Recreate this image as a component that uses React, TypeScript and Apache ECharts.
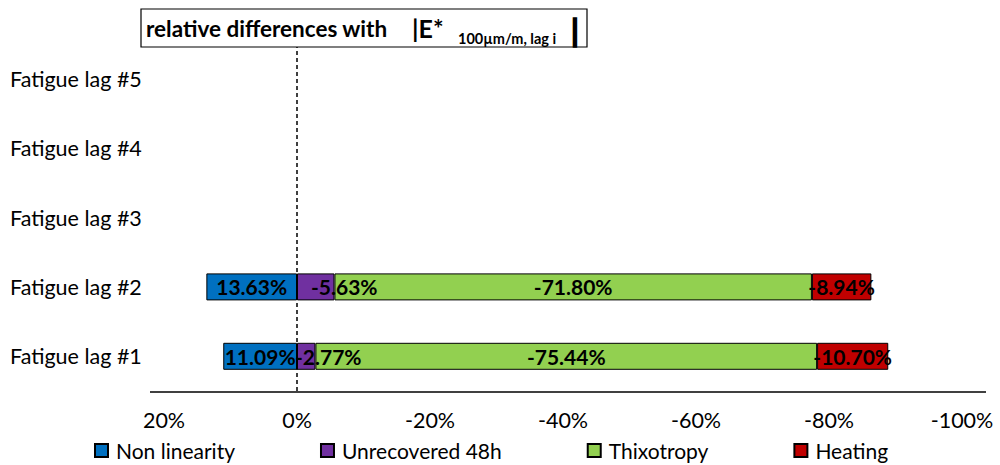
import React, { useEffect, useRef } from "react";
import * as echarts from "echarts";

const categories = ["Fatigue lag #1", "Fatigue lag #2", "Fatigue lag #3", "Fatigue lag #4", "Fatigue lag #5"];
const seriesNames = ["Non linearity", "Unrecovered 48h", "Thixotropy", "Heating"];
const nonLinearity = [11.09, 13.63, null, null, null];
const unrecovered = [-2.77, -5.63, null, null, null];
const thixotropy = [-75.44, -71.8, null, null, null];
const heating = [-10.7, -8.94, null, null, null];
const colors = ["#0070C0", "#7030A0", "#92D050", "#C00000"];
const xTicks = { min: -100, max: 20, interval: 20 };
const titleMain = "relative differences with";
const titleVar = "|E*";
const titleSub = "100µm/m, lag i";
const titleEnd = "|";

const FONT = "Lato";

export default function App() {
  const ref = useRef<HTMLDivElement>(null);
  useEffect(() => {
    if (!ref.current) return;
    const chart = echarts.init(ref.current, null, { renderer: "svg" });
    const values = [nonLinearity, unrecovered, thixotropy, heating];
    const series: any[] = values.map((d, i) => ({
      name: seriesNames[i],
      type: "bar",
      stack: "total",
      data: d.map((v, j) =>
        i === 1 && v != null
          ? { value: v, label: { position: "insideLeft", distance: 0, offset: [j === 1 ? 14 : -2, 0] } }
          : v
      ),
      barWidth: 27,
      itemStyle: { color: colors[i], borderColor: "#000", borderWidth: 1 },
      label: {
        show: true,
        position: "inside",
        fontFamily: FONT,
        fontWeight: "bold",
        fontSize: 21,
        color: "#000",
        formatter: (p: any) => (p.value == null ? "" : p.value.toFixed(2) + "%"),
      },
      z: 2,
    }));
    series[0].markLine = {
      silent: true,
      symbol: ["none", "none"],
      label: { show: false },
      lineStyle: { color: "#000", type: [4, 3], width: 1.5 },
      data: [{ xAxis: 0 }],
      z: 5,
    };
    const bold = { fontFamily: FONT, fontWeight: "bold", fill: "#000", verticalAlign: "middle", align: "left" };
    chart.setOption({
      animation: false,
      textStyle: { fontFamily: FONT },
      grid: { left: 164, right: 38, top: 44, bottom: 74, containLabel: false },
      xAxis: {
        type: "value",
        inverse: true,
        min: xTicks.min,
        max: xTicks.max,
        interval: xTicks.interval,
        axisLine: { show: false },
        axisTick: { show: false },
        splitLine: { show: false },
        axisLabel: {
          formatter: (v: number) => v + "%",
          fontFamily: FONT,
          fontSize: 21.5,
          color: "#000",
          margin: 18,
        },
      },
      yAxis: {
        type: "category",
        data: categories,
        axisLine: { show: false },
        axisTick: { show: false },
        axisLabel: {
          align: "left",
          margin: 154,
          fontFamily: FONT,
          fontSize: 21.5,
          color: "#000",
        },
      },
      legend: {
        data: seriesNames,
        left: 94,
        top: 440,
        padding: 0,
        itemWidth: 13,
        itemHeight: 13,
        itemGap: 85,
        icon: "rect",
        textStyle: { fontFamily: FONT, fontSize: 21, color: "#000", padding: [0, 0, 0, 3] },
      },
      graphic: [
        {
          type: "line",
          shape: { x1: 150, y1: 392, x2: 986, y2: 392 },
          style: { stroke: "#000", lineWidth: 1.3 },
          silent: true,
        },
        {
          type: "rect",
          shape: { x: 141, y: 9, width: 446, height: 38 },
          style: { fill: "#fff", stroke: "#000", lineWidth: 1.2 },
          z: 10,
        },
        { type: "text", x: 146, y: 28, z: 11, style: { ...bold, text: titleMain, fontSize: 22.5 } },
        { type: "text", x: 412, y: 28, z: 11, style: { ...bold, text: titleVar, fontSize: 25 } },
        { type: "text", x: 458, y: 38, z: 11, style: { ...bold, text: titleSub, fontSize: 14.5 } },
        {
          type: "text",
          x: 571,
          y: 30,
          z: 11,
          style: { ...bold, text: titleEnd, fontSize: 30, stroke: "#000", lineWidth: 1.5 },
        },
      ],
      series,
    });
    return () => chart.dispose();
  }, []);
  return <div ref={ref} style={{ position: "absolute", left: 0, top: 0, width: 1000, height: 465 }} />;
}
